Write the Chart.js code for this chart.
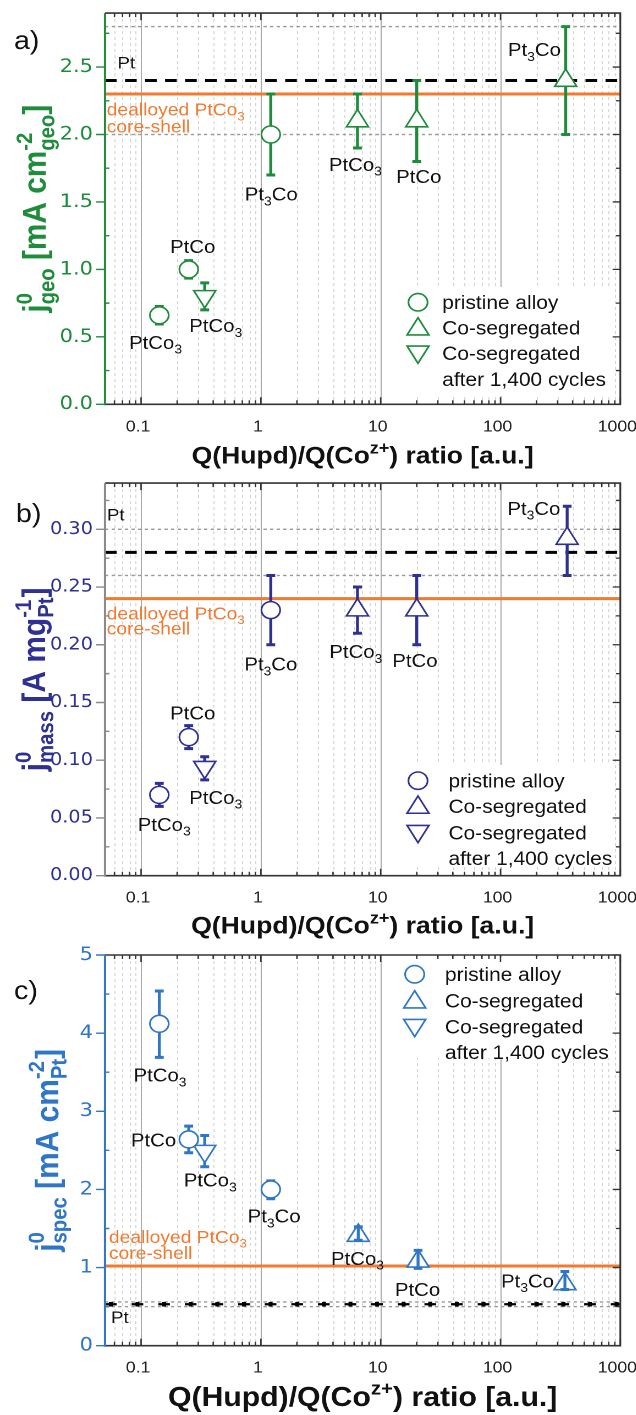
<!DOCTYPE html>
<html>
<head>
<meta charset="utf-8">
<script src="https://cdn.jsdelivr.net/npm/chart.js@4.4.1/dist/chart.umd.min.js"></script>
<style>
  body { margin: 0; background: #fff; }
  #page { position: relative; width: 636px; height: 1415px; overflow: hidden; background: #fff; }
  .panel { position: absolute; left: 0; transform-origin: 0 0; }
</style>
</head>
<body>
<div id="page">
  <div class="panel" id="wrapA" style="top:0px"><canvas id="chartA"></canvas></div>
  <div class="panel" id="wrapB" style="top:470px"><canvas id="chartB"></canvas></div>
  <div class="panel" id="wrapC" style="top:940px"><canvas id="chartC"></canvas></div>
</div>
<script>
// the published figure is stretched a bit horizontally, so every panel is drawn
// narrower and widened again with a css scaleX
const STRETCH = 1.1;
const LOGICAL_W = 636 / STRETCH;
const FONT = '"Liberation Sans", Arial, Helvetica, sans-serif';
const TICK_FONT = '"DejaVu Sans", Verdana, sans-serif';

// --- shared x axis ---
const xMin = 0.05, xMax = 1000;
const xTickValues = [0.1, 1, 10, 100, 1000];
const xTickLabels = ['0.1', '1', '10', '100', '1000'];
const legendNames = ['pristine alloy', 'Co-segregated', 'Co-segregated', 'after 1,400 cycles'];

// --- a) geometric exchange current density ---
const geoPristineX = [0.142, 0.25, 1.21];
const geoPristineY = [0.66, 1.0, 2.0];
const geoPristineHi = [0.725, 1.065, 2.3];
const geoPristineLo = [0.595, 0.935, 1.7];
const geoSegX = [6.4, 20, 350];
const geoSegY = [2.1, 2.1, 2.4];
const geoSegHi = [2.3, 2.4, 2.8];
const geoSegLo = [1.9, 1.8, 2.0];
const geoCycX = [0.34];
const geoCycY = [0.8];
const geoCycHi = [0.9];
const geoCycLo = [0.7];
const geoPt = 2.4;
const geoPtBand = [2.0, 2.8];
const geoCoreShell = 2.3;
const geoYTicks = [0, 0.5, 1.0, 1.5, 2.0, 2.5];
const geoYTickLabels = ['0.0', '0.5', '1.0', '1.5', '2.0', '2.5'];
const geoNameText = ['PtCo_3', 'PtCo', 'PtCo_3', 'Pt_3Co', 'PtCo_3', 'PtCo', 'Pt_3Co'];
const geoNameX = [0.132, 0.27, 0.42, 1.22, 6.15, 20.8, 192];
const geoNameY = [0.46, 1.17, 0.585, 1.56, 1.78, 1.69, 2.63];
const geoNoteText = ['Pt', 'dealloyed PtCo_3', 'core-shell'];
const geoNoteX = [0.0635, 0.0517, 0.0517];
const geoNoteY = [2.535, 2.186, 2.063];

// --- b) mass activity ---
const massPristineX = [0.142, 0.25, 1.21];
const massPristineY = [0.07, 0.12, 0.23];
const massPristineHi = [0.08, 0.13, 0.26];
const massPristineLo = [0.06, 0.11, 0.20];
const massSegX = [6.4, 20, 360];
const massSegY = [0.23, 0.23, 0.292];
const massSegHi = [0.25, 0.26, 0.32];
const massSegLo = [0.21, 0.20, 0.26];
const massCycX = [0.34];
const massCycY = [0.094];
const massCycHi = [0.103];
const massCycLo = [0.083];
const massPt = 0.28;
const massPtBand = [0.26, 0.30];
const massCoreShell = 0.24;
const massYTicks = [0, 0.05, 0.10, 0.15, 0.20, 0.25, 0.30];
const massYTickLabels = ['0.00', '0.05', '0.10', '0.15', '0.20', '0.25', '0.30'];
const massNameText = ['PtCo_3', 'PtCo', 'PtCo_3', 'Pt_3Co', 'PtCo_3', 'PtCo', 'Pt_3Co'];
const massNameX = [0.156, 0.27, 0.42, 1.21, 6.2, 19.3, 190];
const massNameY = [0.0445, 0.1412, 0.068, 0.1834, 0.1943, 0.1863, 0.3183];
const massNoteText = ['Pt', 'dealloyed PtCo_3', 'core-shell'];
const massNoteX = [0.0519, 0.0517, 0.0517];
const massNoteY = [0.313, 0.2273, 0.2144];

// --- c) specific activity ---
const specPristineX = [0.142, 0.25, 1.21];
const specPristineY = [4.12, 2.64, 2.0];
const specPristineHi = [4.54, 2.81, 2.11];
const specPristineLo = [3.69, 2.47, 1.88];
const specSegX = [6.5, 20.5, 345];
const specSegY = [1.41, 1.08, 0.79];
const specSegHi = [1.52, 1.22, 0.95];
const specSegLo = [1.35, 0.99, 0.72];
const specCycX = [0.34];
const specCycY = [2.49];
const specCycHi = [2.69];
const specCycLo = [2.29];
const specPt = 0.53;
const specPtBand = [0.50, 0.56];
const specCoreShell = 1.02;
const specYTicks = [0, 1, 2, 3, 4, 5];
const specYTickLabels = ['0', '1', '2', '3', '4', '5'];
const specNameText = ['PtCo_3', 'PtCo', 'PtCo_3', 'Pt_3Co', 'PtCo_3', 'PtCo', 'Pt_3Co'];
const specNameX = [0.144, 0.127, 0.378, 1.29, 6.4, 20.3, 168];
const specNameY = [3.465, 2.633, 2.12, 1.66, 1.118, 0.722, 0.832];
const specNoteText = ['Pt', 'dealloyed PtCo_3', 'core-shell'];
const specNoteX = [0.0561, 0.0539, 0.0539];
const specNoteY = [0.371, 1.395, 1.19];

const GREEN = '#1f8c3c';
const INDIGO = '#2e3192';
const BLUE = '#2f76c6';
const ORANGE = '#f07a30';

// --- rich text: "_x" / "_{..}" subscript, "^x" / "^{..}" superscript, sup+sub stacked ---
function richParts(s) {
    const parts = [];
    const re = /([_^])(\{[^}]*\}|[^{])|([^_^]+)/g;
    let m;
    while ((m = re.exec(s)) !== null) {
        if (m[3] !== undefined) parts.push({ kind: 'n', text: m[3] });
        else parts.push({ kind: m[1] === '^' ? 'sup' : 'sub', text: m[2].replace(/^\{|\}$/g, '') });
    }
    return parts;
}

function layoutRich(ctx, s, size, weight) {
    const parts = richParts(s);
    const small = `${weight} ${size * 0.68}px ${FONT}`;
    const items = [];
    let x = 0;
    for (let i = 0; i < parts.length; i++) {
        const p = parts[i];
        const font = p.kind === 'n' ? `${weight} ${size}px ${FONT}` : small;
        ctx.font = font;
        const w = ctx.measureText(p.text).width;
        const dy = p.kind === 'sup' ? -0.42 * size : p.kind === 'sub' ? 0.26 * size : 0;
        items.push({ text: p.text, font, x, dy });
        const next = parts[i + 1];
        if (p.kind === 'sup' && next && next.kind === 'sub') {
            ctx.font = small;
            const w2 = ctx.measureText(next.text).width;
            items.push({ text: next.text, font: small, x, dy: 0.26 * size });
            x += Math.max(w, w2);
            i++;
        } else {
            x += w;
        }
    }
    return { items, width: x };
}

function drawRich(ctx, s, x, y, size, weight, align, color) {
    const { items, width } = layoutRich(ctx, s, size, weight);
    const x0 = align === 'center' ? x - width / 2 : align === 'right' ? x - width : x;
    ctx.fillStyle = color;
    ctx.textAlign = 'left';
    ctx.textBaseline = 'alphabetic';
    for (const it of items) {
        ctx.font = it.font;
        ctx.fillText(it.text, x0 + it.x, y + it.dy);
    }
}

// font size that makes a rich string a given length
function fitSize(ctx, s, weight, length) {
    return 30 * length / layoutRich(ctx, s, 30, weight).width;
}

function drawMarker(ctx, style, x, y, r, color, rotation) {
    ctx.save();
    ctx.translate(x, y);
    ctx.rotate((rotation || 0) * Math.PI / 180);
    ctx.beginPath();
    if (style === 'circle') {
        ctx.arc(0, 0, r, 0, Math.PI * 2);
    } else {
        for (let k = 0; k < 3; k++) {
            const a = k * 2 * Math.PI / 3;
            ctx.lineTo(Math.sin(a) * r, -Math.cos(a) * r);
        }
        ctx.closePath();
    }
    ctx.fillStyle = '#fff';
    ctx.fill();
    ctx.lineWidth = 1.6;
    ctx.strokeStyle = color;
    ctx.stroke();
    ctx.restore();
}

function xGridValues() {
    const vals = [];
    for (let d = -2; d <= 3; d++) {
        for (let m = 1; m <= 9; m++) {
            const v = m * Math.pow(10, d);
            if (v <= xMin * 1.001 || v > xMax * 1.001) continue;
            vals.push({ v, major: m === 1 });
        }
    }
    return vals;
}

function drawBars(chart, ds) {
    const { ctx, scales: { x, y } } = chart;
    ctx.save();
    ctx.strokeStyle = ds.barColor;
    ds.data.forEach((pt, i) => {
        const px = x.getPixelForValue(pt.x);
        const hi = y.getPixelForValue(ds.errHi[i]);
        const lo = y.getPixelForValue(ds.errLo[i]);
        ctx.lineWidth = 2.7;
        ctx.beginPath();
        ctx.moveTo(px, hi);
        ctx.lineTo(px, lo);
        ctx.stroke();
        ctx.lineWidth = 3;
        ctx.beginPath();
        ctx.moveTo(px - 4, hi); ctx.lineTo(px + 4, hi);
        ctx.moveTo(px - 4, lo); ctx.lineTo(px + 4, lo);
        ctx.stroke();
    });
    ctx.restore();
}

// chart.js keeps room for overhanging tick labels; the frame here is placed by hand
function noOverhang(s) {
    s.paddingLeft = 0; s.paddingRight = 0; s.paddingTop = 0; s.paddingBottom = 0;
}

const panels = {};

const panelPlugin = {
    id: 'panelDecor',
    beforeDatasetsDraw(chart) {
        const { ctx, chartArea: a, scales: { x } } = chart;
        ctx.save();
        ctx.lineWidth = 1;
        for (const g of xGridValues()) {
            if (g.v >= xMax * 0.999) continue;
            const px = Math.round(x.getPixelForValue(g.v)) + 0.5;
            ctx.strokeStyle = g.major ? '#a9a9a9' : '#d4d4d4';
            ctx.setLineDash(g.major ? [] : [3, 3]);
            ctx.beginPath();
            ctx.moveTo(px, a.top);
            ctx.lineTo(px, a.bottom);
            ctx.stroke();
        }
        ctx.restore();
    },
    beforeDatasetDraw(chart, args) {
        const ds = chart.data.datasets[args.index];
        if (ds.errHi && !ds.barsOnTop) drawBars(chart, ds);
    },
    afterDatasetDraw(chart, args) {
        const ds = chart.data.datasets[args.index];
        if (ds.errHi && ds.barsOnTop) drawBars(chart, ds);
    },
    afterDatasetsDraw(chart) {
        const p = panels[chart.canvas.id];
        const { ctx, chartArea: a, scales: { x, y } } = chart;

        // legend
        const L = p.legend;
        ctx.save();
        ctx.fillStyle = '#fff';
        ctx.fillRect(L.boxLeft, L.boxTop, a.right - 9 - L.boxLeft, L.boxBottom - L.boxTop);
        drawMarker(ctx, 'circle', L.symX, L.rows[0], 8.7, p.color, 0);
        drawMarker(ctx, 'triangle', L.symX, L.rows[1] + 1.5, 11.5, p.color, 0);
        drawMarker(ctx, 'triangle', L.symX, L.rows[2] - 1.5, 11.5, p.color, 180);
        legendNames.forEach((t, i) => drawRich(ctx, t, L.textX, L.rows[i] + 6.8, 19, 'normal', 'left', '#111'));
        ctx.restore();

        // sample names and reference notes
        p.nameText.forEach((t, i) => {
            drawRich(ctx, t, x.getPixelForValue(p.nameX[i]), y.getPixelForValue(p.nameY[i]) + 6.6, 18.5, 'normal', 'center', '#111');
        });
        p.noteText.forEach((t, i) => {
            drawRich(ctx, t, x.getPixelForValue(p.noteX[i]), y.getPixelForValue(p.noteY[i]) + 6.3,
                i === 0 ? 17 : 17.5, 'normal', 'left', i === 0 ? '#111' : ORANGE);
        });

        // ticks and frame
        ctx.save();
        ctx.strokeStyle = '#333';
        ctx.lineWidth = 1.3;
        ctx.beginPath();
        for (const g of xGridValues()) {
            const px = x.getPixelForValue(g.v);
            const len = g.major ? 7 : 4;
            ctx.moveTo(px, a.bottom); ctx.lineTo(px, a.bottom - len);
            ctx.moveTo(px, a.top); ctx.lineTo(px, a.top + len);
        }
        const yMinor = [];
        for (let v = 0; v <= p.yMax + 1e-9; v += p.yMinorStep) {
            if (!p.yTicks.some(t => Math.abs(t - v) < 1e-9)) yMinor.push(v);
        }
        for (const v of p.yTicks) {
            const py = y.getPixelForValue(v);
            ctx.moveTo(a.right, py); ctx.lineTo(a.right - 7, py);
        }
        for (const v of yMinor) {
            const py = y.getPixelForValue(v);
            ctx.moveTo(a.right, py); ctx.lineTo(a.right - 4, py);
        }
        ctx.stroke();
        ctx.lineWidth = 1.6;
        ctx.beginPath();
        ctx.moveTo(a.left, a.top); ctx.lineTo(a.right, a.top);
        ctx.lineTo(a.right, a.bottom); ctx.lineTo(a.left, a.bottom);
        ctx.stroke();

        ctx.strokeStyle = p.axisColor;
        ctx.lineWidth = 2;
        ctx.beginPath();
        ctx.moveTo(a.left, a.top); ctx.lineTo(a.left, a.bottom + 1);
        ctx.stroke();
        ctx.lineWidth = 1.4;
        ctx.beginPath();
        for (const v of p.yTicks) {
            const py = y.getPixelForValue(v);
            ctx.moveTo(a.left - 8, py); ctx.lineTo(a.left, py);
        }
        for (const v of yMinor) {
            const py = y.getPixelForValue(v);
            ctx.moveTo(a.left, py); ctx.lineTo(a.left + 4, py);
        }
        ctx.stroke();
        ctx.restore();
    },
    afterDraw(chart) {
        const p = panels[chart.canvas.id];
        const { ctx, chartArea: a } = chart;
        // y title, rotated
        const ys = fitSize(ctx, p.yTitle, 'bold', p.yTitleLen);
        ctx.save();
        ctx.translate(p.yTitleX, (a.top + a.bottom) / 2);
        ctx.rotate(-Math.PI / 2);
        drawRich(ctx, p.yTitle, 0, ys * 0.36, ys, 'bold', 'center', p.color);
        ctx.restore();
        // x title
        const xTitle = 'Q(Hupd)/Q(Co^{z+}) ratio [a.u.]';
        const xs = fitSize(ctx, xTitle, 'bold', p.xTitleLen);
        drawRich(ctx, xTitle, (a.left + a.right) / 2, p.xTitleY + xs * 0.36, xs, 'bold', 'center', '#111');
        // panel letter
        drawRich(ctx, p.letter, p.letterX, p.letterY + 9.2, 26, 'normal', 'left', '#111');
    }
};

function buildPanel(id, wrapId, h, p) {
    panels[id] = p;
    const canvas = document.getElementById(id);
    canvas.width = LOGICAL_W;
    canvas.height = h;
    document.getElementById(wrapId).style.transform = `scaleX(${STRETCH})`;

    const pts = (xs, ys) => xs.map((v, i) => ({ x: v, y: ys[i] }));
    const hline = v => [{ x: xMin, y: v }, { x: xMax, y: v }];
    const marker = (xs, ys, hi, lo, style, r, rot, onTop) => ({
        data: pts(xs, ys), errHi: hi, errLo: lo, barColor: p.color, barsOnTop: !!onTop,
        pointStyle: style, pointRadius: r, pointRotation: rot,
        pointBackgroundColor: '#fff', pointBorderColor: p.color, pointBorderWidth: 1.6,
        showLine: false, order: 1
    });
    const refLine = (v, color, width, dash, order, dashOffset) => ({
        data: hline(v), showLine: true, borderColor: color, borderWidth: width,
        borderDash: dash, borderDashOffset: dashOffset || 0, pointRadius: 0, order
    });

    const datasets = [
        marker(p.pristine[0], p.pristine[1], p.pristine[2], p.pristine[3], 'circle', 8.5, 0, false),
        marker(p.seg[0], p.seg[1], p.seg[2], p.seg[3], 'triangle', 11.5, 0, p.segBarsOnTop),
        marker(p.cyc[0], p.cyc[1], p.cyc[2], p.cyc[3], 'triangle', 11.5, 180, false),
        refLine(p.coreShell, ORANGE, 3, [], 5),
        refLine(p.pt, '#000', p.ptWidth, p.ptDash, 6),
        ...p.ptBand.map(v => refLine(v, '#9a9a9a', 1.4, [3, 3], 7))
    ];
    // c) draws the Pt line dash-dot: a thick knot in the middle of every dash
    if (p.ptKnot) datasets.push(refLine(p.pt, '#000', 4.5, [3.6, 20.6], 6, -3.5));

    return new Chart(canvas, {
        type: 'scatter',
        data: { datasets },
        options: {
            responsive: false,
            animation: false,
            devicePixelRatio: 2,
            events: [],
            layout: { padding: { left: 0, right: LOGICAL_W - p.plotRight, top: p.top, bottom: 0 } },
            plugins: { legend: { display: false }, tooltip: { enabled: false } },
            scales: {
                x: {
                    type: 'logarithmic', min: xMin, max: xMax,
                    grid: { display: false, drawTicks: false }, border: { display: false },
                    afterBuildTicks: s => { s.ticks = xTickValues.map(v => ({ value: v })); },
                    afterFit: s => { s.height = p.xAxisH; noOverhang(s); },
                    ticks: {
                        callback: (v, i) => xTickLabels[i], color: '#222', padding: 13, labelOffset: -2.7,
                        autoSkip: false, maxRotation: 0, font: { size: 16, family: FONT }
                    }
                },
                y: {
                    min: 0, max: p.yMax,
                    grid: { display: false, drawTicks: false }, border: { display: false },
                    afterBuildTicks: s => { s.ticks = p.yTicks.map(v => ({ value: v })); },
                    afterFit: s => { s.width = p.plotLeft; noOverhang(s); },
                    ticks: {
                        callback: (v, i) => p.yTickLabels[i], color: p.color, padding: 11,
                        font: { size: p.yTickSize, family: TICK_FONT }
                    }
                }
            }
        },
        plugins: [panelPlugin]
    });
}

const plotLeft = 105 / STRETCH;
const plotRight = 620.5 / STRETCH;

buildPanel('chartA', 'wrapA', 470, {
    color: GREEN, axisColor: GREEN, top: 11.7, xAxisH: 470 - 404.3, plotLeft, plotRight,
    yMax: 2.9, yTicks: geoYTicks, yTickLabels: geoYTickLabels, yMinorStep: 0.25, yTickSize: 19,
    pristine: [geoPristineX, geoPristineY, geoPristineHi, geoPristineLo],
    seg: [geoSegX, geoSegY, geoSegHi, geoSegLo],
    cyc: [geoCycX, geoCycY, geoCycHi, geoCycLo],
    pt: geoPt, ptBand: geoPtBand, coreShell: geoCoreShell, ptDash: [10.6, 7.6], ptWidth: 3,
    nameText: geoNameText, nameX: geoNameX, nameY: geoNameY,
    noteText: geoNoteText, noteX: geoNoteX, noteY: geoNoteY,
    yTitle: 'j^0_{geo} [mA cm^{-2}_{geo}]', yTitleLen: 208, yTitleX: 31,
    xTitleY: 455, xTitleLen: 311, letter: 'a)', letterX: 12.7, letterY: 40,
    legend: { symX: 380, textX: 402, rows: [302.3, 327.7, 353.3, 379], boxLeft: 363, boxTop: 287, boxBottom: 396 }
});

buildPanel('chartB', 'wrapB', 470, {
    color: INDIGO, axisColor: '#8a8a8a', top: 11.7, xAxisH: 470 - 405.7, plotLeft, plotRight,
    yMax: 0.34, yTicks: massYTicks, yTickLabels: massYTickLabels, yMinorStep: 0.025, yTickSize: 17.5,
    pristine: [massPristineX, massPristineY, massPristineHi, massPristineLo],
    seg: [massSegX, massSegY, massSegHi, massSegLo],
    cyc: [massCycX, massCycY, massCycHi, massCycLo],
    pt: massPt, ptBand: massPtBand, coreShell: massCoreShell, ptDash: [10.6, 7.6], ptWidth: 3,
    nameText: massNameText, nameX: massNameX, nameY: massNameY,
    noteText: massNoteText, noteX: massNoteX, noteY: massNoteY,
    yTitle: 'j^0_{mass} [A mg^{-1}_{Pt}]', yTitleLen: 184, yTitleX: 30,
    xTitleY: 455, xTitleLen: 312, letter: 'b)', letterX: 14.5, letterY: 43,
    legend: { symX: 380, textX: 407.7, rows: [310.7, 336, 362.7, 388.3], boxLeft: 363, boxTop: 295, boxBottom: 397 }
});

buildPanel('chartC', 'wrapC', 475, {
    color: BLUE, axisColor: BLUE, top: 15, xAxisH: 475 - 405.7, plotLeft, plotRight,
    yMax: 5, yTicks: specYTicks, yTickLabels: specYTickLabels, yMinorStep: 0.5, yTickSize: 19,
    pristine: [specPristineX, specPristineY, specPristineHi, specPristineLo],
    seg: [specSegX, specSegY, specSegHi, specSegLo], segBarsOnTop: true,
    cyc: [specCycX, specCycY, specCycHi, specCycLo],
    pt: specPt, ptBand: specPtBand, coreShell: specCoreShell, ptDash: [10.6, 13.6], ptWidth: 2.2, ptKnot: true,
    nameText: specNameText, nameX: specNameX, nameY: specNameY,
    noteText: specNoteText, noteX: specNoteX, noteY: specNoteY,
    yTitle: 'j^0_{spec} [mA cm^{-2}_{Pt}]', yTitleLen: 203, yTitleX: 42,
    xTitleY: 456, xTitleLen: 354, letter: 'c)', letterX: 12.7, letterY: 50,
    legend: { symX: 377, textX: 404.5, rows: [34.3, 60.7, 86.7, 112.3], boxLeft: 362, boxTop: 17, boxBottom: 118 }
});
</script>
</body>
</html>
